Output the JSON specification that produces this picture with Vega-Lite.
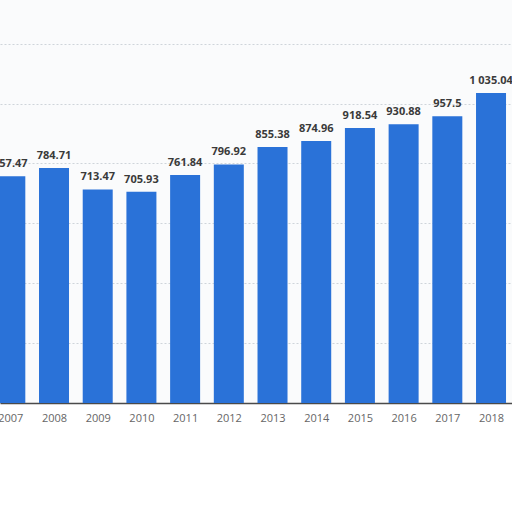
{
  "$schema": "https://vega.github.io/schema/vega-lite/v6.json",
  "autosize": "none",
  "padding": {"left": 0, "right": 0, "top": 0, "bottom": 109},
  "width": 512,
  "height": 403,
  "background": "white",
  "data": {
    "values": [
      {"year": 2007, "value": 757.47},
      {"year": 2008, "value": 784.71},
      {"year": 2009, "value": 713.47},
      {"year": 2010, "value": 705.93},
      {"year": 2011, "value": 761.84},
      {"year": 2012, "value": 796.92},
      {"year": 2013, "value": 855.38},
      {"year": 2014, "value": 874.96},
      {"year": 2015, "value": 918.54},
      {"year": 2016, "value": 930.88},
      {"year": 2017, "value": 957.5},
      {"year": 2018, "value": 1035.04}
    ]
  },
  "encoding": {
    "x": {
      "field": "year",
      "type": "quantitative",
      "scale": {"domain": [2006.764, 2018.48], "nice": false, "zero": false, "padding": 0},
      "axis": {
        "values": [2007, 2008, 2009, 2010, 2011, 2012, 2013, 2014, 2015, 2016, 2017, 2018],
        "format": "d",
        "title": null,
        "grid": false,
        "ticks": false,
        "domainColor": "#4a4a4a",
        "domainWidth": 1.5,
        "labelColor": "#666666",
        "labelFontSize": 11,
        "labelPadding": 9,
        "labelFlush": false,
        "labelOverlap": false
      }
    },
    "y": {
      "field": "value",
      "type": "quantitative",
      "scale": {"domain": [0, 1346], "nice": false},
      "axis": {
        "values": [0, 200, 400, 600, 800, 1000, 1200],
        "title": null,
        "labels": false,
        "ticks": false,
        "domain": false,
        "gridColor": "#cfd4da",
        "gridDash": [2, 2],
        "gridWidth": 1
      }
    }
  },
  "layer": [
    {
      "mark": {"type": "bar", "width": 30, "color": "#2a72d8", "clip": true}
    },
    {
      "mark": {
        "type": "text",
        "baseline": "bottom",
        "dy": -7,
        "fontSize": 11,
        "fontWeight": "bold",
        "color": "#3a3a3a",
        "clip": false
      },
      "encoding": {
        "text": {"field": "value", "type": "quantitative", "format": ",.2~f"}
      }
    }
  ],
  "config": {
    "view": {"stroke": null, "fill": "#fafbfc"},
    "font": "Open Sans",
    "locale": {
      "number": {
        "decimal": ".",
        "thousands": " ",
        "grouping": [3],
        "currency": ["", ""]
      }
    }
  }
}
